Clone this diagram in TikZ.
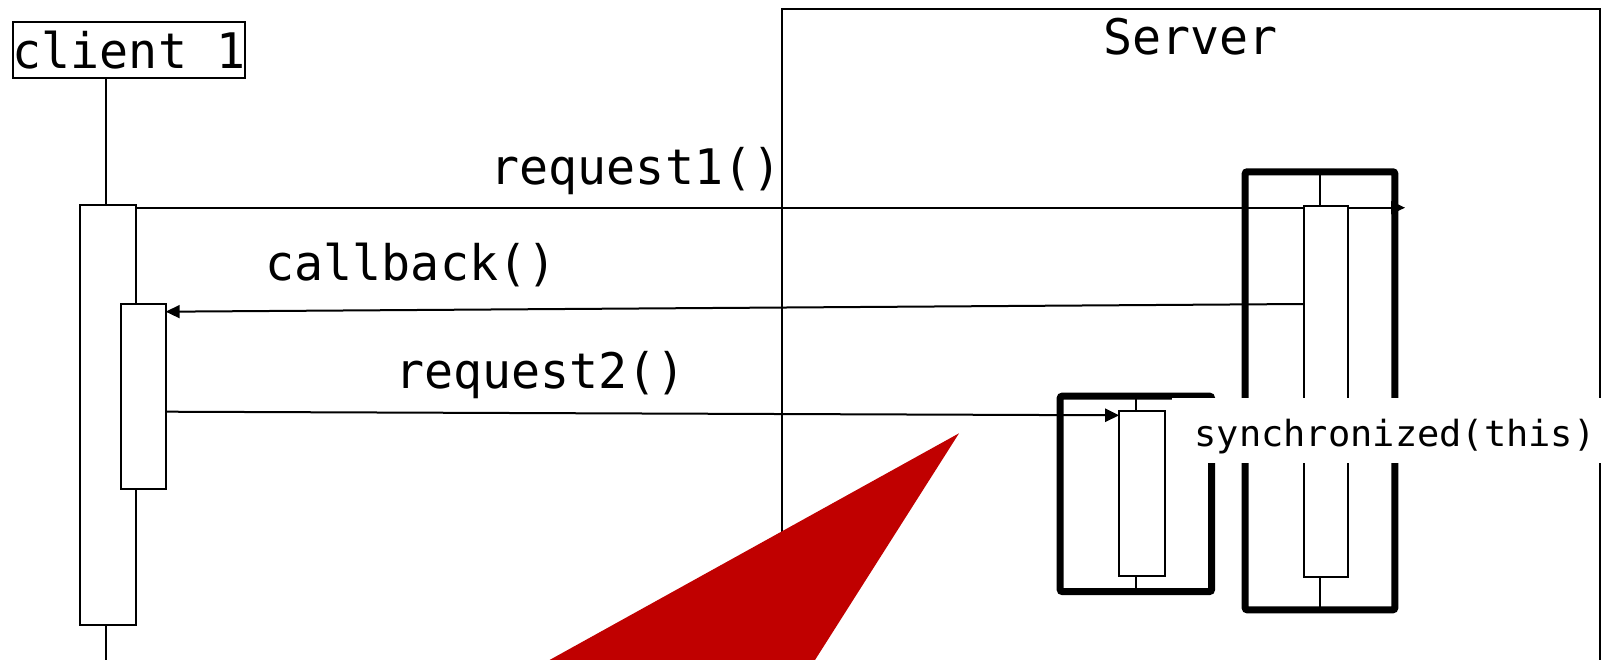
\documentclass[tikz,border=0pt]{standalone}
\usepackage{fontspec}
\newfontfamily\seqfont[FakeStretch=0.985]{DejaVu Sans Mono}
\newfontfamily\lockfont[FakeStretch=1.028]{DejaVu Sans Mono}
\usetikzlibrary{arrows.meta}
\definecolor{alertred}{RGB}{192,0,0}
\tikzset{
  life/.style={line width=2pt},
  actbox/.style={draw, line width=2pt, fill=white, inner sep=0pt, outer sep=0pt},
  lockframe/.style={draw, line width=7pt, rounded corners=2pt, inner sep=0pt, outer sep=0pt},
  msg/.style={line width=2pt, -{Triangle[length=14pt,width=13pt]}},
  biglabel/.style={font=\seqfont\fontsize{49}{49}\selectfont, inner sep=0pt, anchor=base},
  smalllabel/.style={font=\lockfont\fontsize{36}{36}\selectfont, inner sep=0pt, anchor=base},
}
\begin{document}
\begin{tikzpicture}[x=1pt,y=-1pt]
\useasboundingbox (0,0) rectangle (1602,660);

% server frame
\coordinate (srvbl) at (782,700);
\coordinate (srvtl) at (782,9.3);
\coordinate (srvtr) at (1599.5,9.3);
\coordinate (srvbr) at (1599.5,700);
\draw[life] (srvbl) -- (srvtl) -- (srvtr) -- (srvbr);
\node[biglabel] (server) at (1190.5,54.3) {Server};

% client participant
\node[draw, life, inner sep=0pt, outer sep=0pt, minimum width=230pt, minimum height=56.5pt,
      font=\seqfont\fontsize{49}{49}\selectfont] (client) at (129,50.25) {client 1};
\coordinate (cl) at (105.5,0);
\coordinate (clend) at (105.5,700);

% lifeline x positions on the server side
\coordinate (sl) at (1319.5,0);
\coordinate (ll) at (1136.3,0);

% client activations
\node[actbox, minimum width=55.5pt, minimum height=420pt] (ca) at (108,415) {};
\node[actbox, minimum width=44.7pt, minimum height=185.3pt] (ci) at (143.35,396.35) {};

% client lifeline
\draw[life] (client.south -| cl) -- (ca.north -| cl);
\draw[life] (ca.south -| cl) -- (clend);

% messages
\coordinate (r1end) at (1405,207.7);
\draw[msg] (ca.east |- r1end) -- (r1end);
\node[biglabel] (r1lbl) at (636,185) {request1()};

\coordinate (cbstart) at (1303.7,304);
\coordinate (cbend) at (165.7,311.7);
\draw[msg] (cbstart) -- (cbend);
\node[biglabel] (cblbl) at (411,280) {callback()};

\coordinate (r2start) at (165.7,411.7);
\coordinate (r2end) at (1119.2,415.3);
\draw[msg] (r2start) -- (r2end);
\node[biglabel] (r2lbl) at (540.5,388.3) {request2()};

% synchronized blocks
\node[lockframe, minimum width=149.6pt, minimum height=438pt] (sf) at (1320,390.8) {};
\node[lockframe, minimum width=151.3pt, minimum height=195.3pt] (lf) at (1135.85,493.85) {};

% server-side activations and lifeline stubs
\node[actbox, minimum width=44.6pt, minimum height=370.7pt] (sa) at (1326,391.35) {};
\node[actbox, minimum width=45.7pt, minimum height=164.7pt] (la) at (1142.05,493.35) {};
\draw[life] (sf.north -| sl) -- (sa.north -| sl);
\draw[life] (sa.south -| sl) -- (sf.south -| sl);
\draw[life] (lf.north -| ll) -- (la.north -| ll);
\draw[life] (la.south -| ll) -- (lf.south -| ll);

% lock label
\node[smalllabel, fill=white, text height=48.4pt, text depth=16.6pt, minimum width=446pt]
  (sync) at (1395,446.7) {synchronized(this)};

% red pointer
\coordinate (ptip) at (959,433.3);
\coordinate (pleft) at (477.3,700);
\coordinate (pright) at (789.6,700);
\fill[alertred] (ptip) -- (pleft) -- (pright) -- cycle;
\end{tikzpicture}
\end{document}
